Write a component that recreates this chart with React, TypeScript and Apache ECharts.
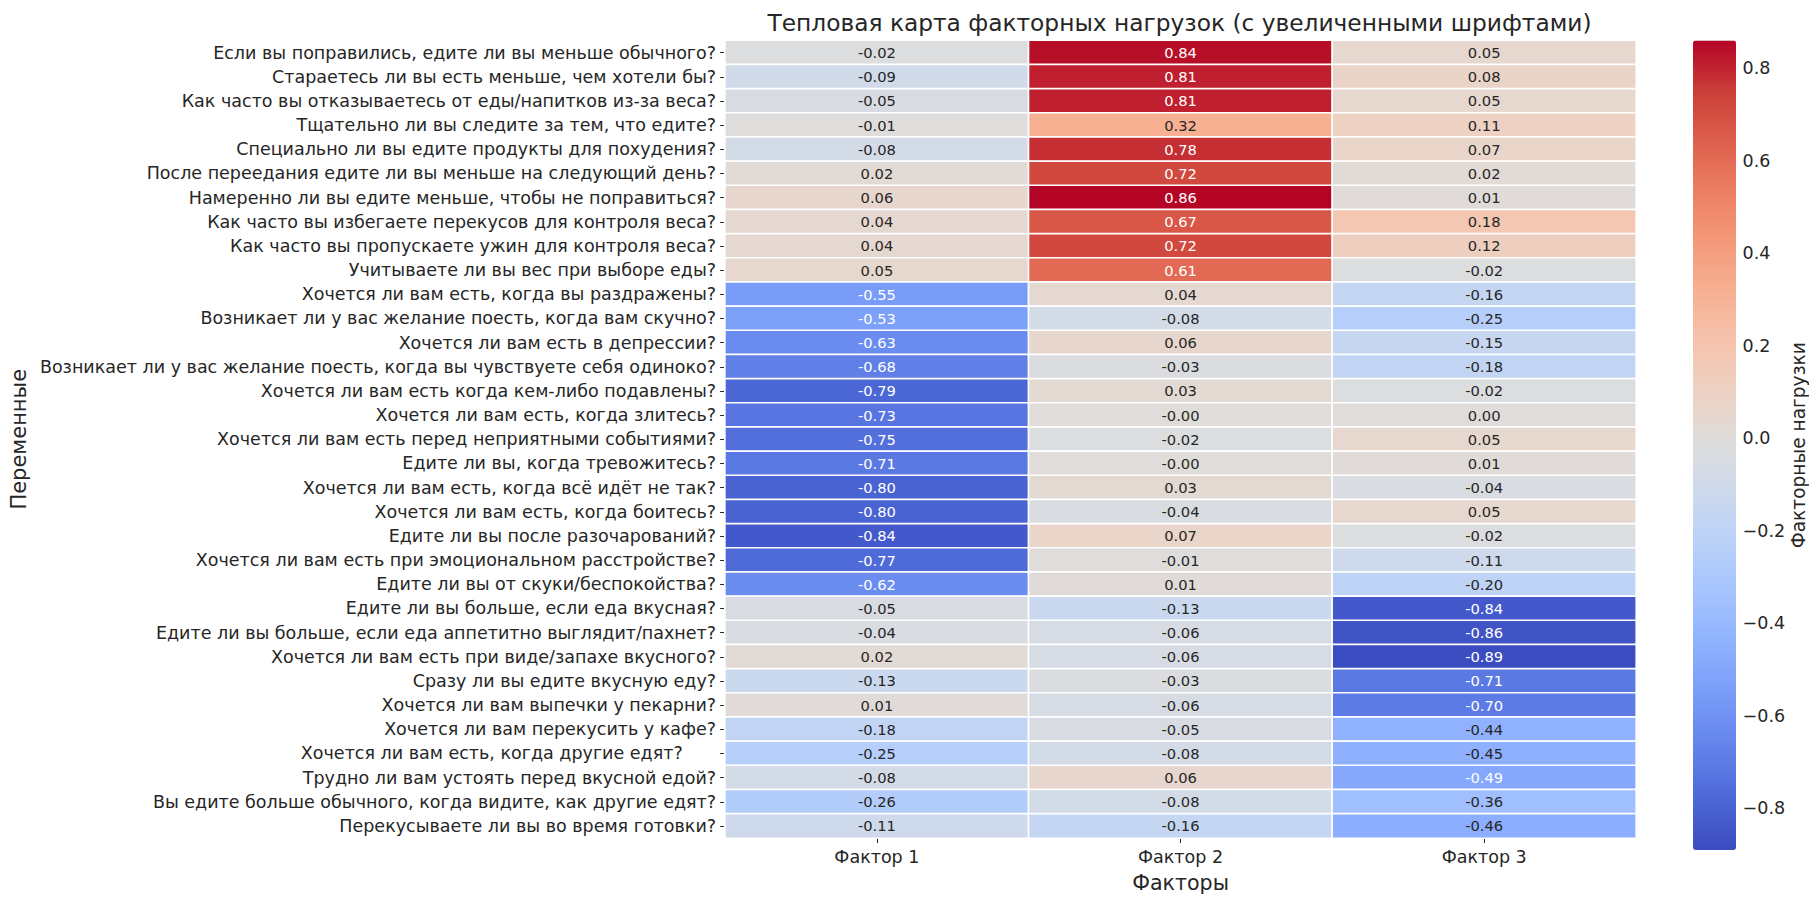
import React, { useEffect, useRef } from "react";
import * as echarts from "echarts";

const TITLE = "Тепловая карта факторных нагрузок (с увеличенными шрифтами)";
const FACTORS = ["Фактор 1", "Фактор 2", "Фактор 3"];
const QUESTIONS = [
  "Если вы поправились, едите ли вы меньше обычного?",
  "Стараетесь ли вы есть меньше, чем хотели бы?",
  "Как часто вы отказываетесь от еды/напитков из-за веса?",
  "Тщательно ли вы следите за тем, что едите?",
  "Специально ли вы едите продукты для похудения?",
  "После переедания едите ли вы меньше на следующий день?",
  "Намеренно ли вы едите меньше, чтобы не поправиться?",
  "Как часто вы избегаете перекусов для контроля веса?",
  "Как часто вы пропускаете ужин для контроля веса?",
  "Учитываете ли вы вес при выборе еды?",
  "Хочется ли вам есть, когда вы раздражены?",
  "Возникает ли у вас желание поесть, когда вам скучно?",
  "Хочется ли вам есть в депрессии?",
  "Возникает ли у вас желание поесть, когда вы чувствуете себя одиноко?",
  "Хочется ли вам есть когда кем-либо подавлены?",
  "Хочется ли вам есть, когда злитесь?",
  "Хочется ли вам есть перед неприятными событиями?",
  "Едите ли вы, когда тревожитесь?",
  "Хочется ли вам есть, когда всё идёт не так?",
  "Хочется ли вам есть, когда боитесь?",
  "Едите ли вы после разочарований?",
  "Хочется ли вам есть при эмоциональном расстройстве?",
  "Едите ли вы от скуки/беспокойства?",
  "Едите ли вы больше, если еда вкусная?",
  "Едите ли вы больше, если еда аппетитно выглядит/пахнет?",
  "Хочется ли вам есть при виде/запахе вкусного?",
  "Сразу ли вы едите вкусную еду?",
  "Хочется ли вам выпечки у пекарни?",
  "Хочется ли вам перекусить у кафе?",
  "Хочется ли вам есть, когда другие едят?      ",
  "Трудно ли вам устоять перед вкусной едой?",
  "Вы едите больше обычного, когда видите, как другие едят?",
  "Перекусываете ли вы во время готовки?",
];

const FACTOR1 = [
  -0.02, -0.09, -0.05, -0.01, -0.08, 0.02, 0.06, 0.04, 0.04, 0.05,
  -0.55, -0.53, -0.63, -0.68, -0.79, -0.73, -0.75, -0.71, -0.8, -0.8, -0.84, -0.77, -0.62,
  -0.05, -0.04, 0.02, -0.13, 0.01, -0.18, -0.25, -0.08, -0.26, -0.11,
];
const FACTOR2 = [
  0.84, 0.81, 0.81, 0.32, 0.78, 0.72, 0.86, 0.67, 0.72, 0.61,
  0.04, -0.08, 0.06, -0.03, 0.03, -0.001, -0.02, -0.001, 0.03, -0.04, 0.07, -0.01, 0.01,
  -0.13, -0.06, -0.06, -0.03, -0.06, -0.05, -0.08, 0.06, -0.08, -0.16,
];
const FACTOR3 = [
  0.05, 0.08, 0.05, 0.11, 0.07, 0.02, 0.01, 0.18, 0.12, -0.02,
  -0.16, -0.25, -0.15, -0.18, -0.02, 0.0, 0.05, 0.01, -0.04, 0.05, -0.02, -0.11, -0.2,
  -0.84, -0.86, -0.89, -0.71, -0.7, -0.44, -0.45, -0.49, -0.36, -0.46,
];

const V_MIN = -0.89;
const V_MAX = 0.86;
const CB_TICKS = [-0.8, -0.6, -0.4, -0.2, 0, 0.2, 0.4, 0.6, 0.8];

const COOLWARM = [
  "#3b4cc0", "#4d68d7", "#6282ea", "#779af7", "#8db0fe", "#a3c2fe",
  "#b8d0f9", "#ccd9ee", "#dddddd", "#ecd3c5", "#f5c4ad", "#f7b194",
  "#f49a7b", "#ec7f63", "#de604d", "#cb3e38", "#b40426",
];

const FONT = "DejaVu Sans";
const INK = "#262626";

export default function App() {
  const ref = useRef<HTMLDivElement>(null);

  useEffect(() => {
    if (!ref.current) return;
    const chart = echarts.init(ref.current, undefined, { renderer: "svg" });
    const cols = [FACTOR1, FACTOR2, FACTOR3];
    const data: any[] = [];
    cols.forEach((col, xi) => {
      col.forEach((v, yi) => {
        const light = v > -0.47 && v < 0.45;
        data.push({ value: [xi, yi, v], label: { color: light ? INK : "#ffffff" } });
      });
    });

    const option: any = {
      animation: false,
      backgroundColor: "#ffffff",
      textStyle: { fontFamily: FONT },
      graphic: [
        {
          type: "text",
          x: 1179.5,
          y: 22,
          style: {
            text: TITLE,
            fontSize: 23.3,
            fontFamily: FONT,
            fill: INK,
            align: "center",
            verticalAlign: "middle",
          },
        },
      ],
      grid: [
        { left: 723, top: 40.5, width: 913, height: 809.5 },
        { left: 1693, top: 40.5, width: 43, height: 809.5 },
      ],
      xAxis: [
        {
          type: "category",
          gridIndex: 0,
          data: FACTORS,
          position: "bottom",
          axisLine: { show: false },
          axisTick: { show: true, alignWithLabel: true, length: 5, lineStyle: { color: INK, width: 1 } },
          axisLabel: { fontSize: 17.5, color: INK, margin: 10, fontFamily: FONT },
          splitLine: { show: false },
          splitArea: { show: false },
          name: "Факторы",
          nameLocation: "middle",
          nameGap: 34,
          nameTextStyle: { fontSize: 20.6, color: INK, fontFamily: FONT },
        },
        { type: "value", gridIndex: 1, show: false, min: 0, max: 1 },
      ],
      yAxis: [
        {
          type: "category",
          gridIndex: 0,
          data: QUESTIONS,
          inverse: true,
          axisLine: { show: false },
          axisTick: { show: true, alignWithLabel: true, length: 5, lineStyle: { color: INK, width: 1 } },
          axisLabel: { fontSize: 17.5, color: INK, margin: 9, fontFamily: FONT },
          splitLine: { show: false },
          splitArea: { show: false },
          name: "Переменные",
          nameLocation: "middle",
          nameRotate: 90,
          nameGap: 686.5,
          nameTextStyle: { fontSize: 21, color: INK, fontFamily: FONT },
        },
        {
          type: "value",
          gridIndex: 1,
          position: "right",
          min: V_MIN,
          max: V_MAX,
          axisLine: { show: false },
          axisTick: { show: true, length: 5, customValues: CB_TICKS, lineStyle: { color: INK, width: 1 } },
          axisLabel: {
            show: true,
            customValues: CB_TICKS,
            formatter: (v: number) => v.toFixed(1).replace("-", "\u2212"),
            fontSize: 17.5,
            color: INK,
            margin: 8,
            fontFamily: FONT,
          },
          splitLine: { show: false },
          name: "Факторные нагрузки",
          nameLocation: "middle",
          nameRotate: 90,
          nameGap: 46,
          nameTextStyle: { fontSize: 18.6, color: INK, fontFamily: FONT },
        },
      ],
      visualMap: {
        type: "continuous",
        min: V_MIN,
        max: V_MAX,
        seriesIndex: 0,
        show: true,
        orient: "vertical",
        left: 1693,
        top: 40.5,
        itemWidth: 43,
        itemHeight: 809.5,
        padding: 0,
        calculable: false,
        hoverLink: false,
        inRange: { color: COOLWARM },
      },
      series: [
        {
          type: "heatmap",
          xAxisIndex: 0,
          yAxisIndex: 0,
          data,
          label: {
            show: true,
            fontSize: 14.7,
            fontFamily: FONT,
            formatter: (p: any) => (p.value[2] as number).toFixed(2),
          },
          itemStyle: { borderColor: "#ffffff", borderWidth: 1.7 },
          emphasis: { disabled: true },
        },
        { type: "scatter", xAxisIndex: 1, yAxisIndex: 1, data: [] },
      ],
    };
    chart.setOption(option);
    return () => chart.dispose();
  }, []);

  return (
    <div
      ref={ref}
      style={{ position: "fixed", left: 0, top: 0, width: 1809, height: 898, background: "#fff" }}
    />
  );
}
